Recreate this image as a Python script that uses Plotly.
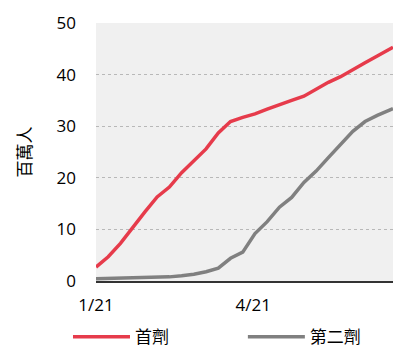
import pandas as pd
import plotly.graph_objects as go

# Weekly cumulative doses, in millions of people
dates = pd.date_range("2021-01-21", periods=25, freq="7D").strftime("%Y-%m-%d").tolist() + ["2021-07-10"]
first_dose = [2.7, 4.7, 7.3, 10.4, 13.4, 16.3, 18.2, 21.0, 23.2, 25.6, 28.7, 30.9, 31.7,
              32.4, 33.3, 34.2, 35.0, 35.8, 37.1, 38.5, 39.6, 41.0, 42.3, 43.6, 45.0, 45.3]
second_dose = [0.45, 0.5, 0.55, 0.6, 0.65, 0.72, 0.8, 1.0, 1.3, 1.8, 2.5, 4.4, 5.6,
               9.2, 11.5, 14.3, 16.2, 19.1, 21.3, 23.9, 26.5, 29.0, 30.9, 32.1, 33.1, 33.4]

tick_dates = ["2021-01-21", "2021-04-21"]
tick_text = ["1/21", "4/21"]
y_ticks = [0, 10, 20, 30, 40, 50]

font_family = "Open Sans, Noto Sans CJK TC, sans-serif"
cjk_font = "Noto Sans CJK TC"

fig = go.Figure()
fig.add_trace(go.Scatter(x=dates, y=first_dose, name="首劑", mode="lines",
                         line=dict(color="#E63B4B", width=3.5), legend="legend"))
fig.add_trace(go.Scatter(x=dates, y=second_dose, name="第二劑", mode="lines",
                         line=dict(color="#808080", width=3.5), legend="legend2"))

legend_style = dict(orientation="h", xref="container", xanchor="left",
                    yref="container", y=0.034, yanchor="middle",
                    itemwidth=57, font=dict(size=17, family=cjk_font),
                    bgcolor="rgba(0,0,0,0)")

fig.update_layout(
    width=393, height=349,
    margin=dict(l=96, r=0, t=23, b=68),
    paper_bgcolor="white",
    plot_bgcolor="#F0F0F0",
    font=dict(family=font_family, size=16, color="#000000"),
    showlegend=True,
    legend=dict(x=0.173, **legend_style),
    legend2=dict(x=0.618, **legend_style),
    xaxis=dict(
        range=["2021-01-21", "2021-07-10"],
        tickvals=tick_dates, ticktext=tick_text,
        showgrid=False, zeroline=False,
        showline=True, linecolor="#333333", linewidth=2,
        ticks="", tickfont=dict(size=17), ticklabelstandoff=8,
    ),
    yaxis=dict(
        range=[0, 50], tickvals=y_ticks,
        showgrid=True, gridcolor="#B8B8B8", griddash="dot", gridwidth=1,
        zeroline=False, showline=False,
        ticks="", tickfont=dict(size=17), ticklabelstandoff=19,
        title=dict(text="百萬人", font=dict(size=17, family=cjk_font), standoff=20),
    ),
)

fig.write_html("out.html")
